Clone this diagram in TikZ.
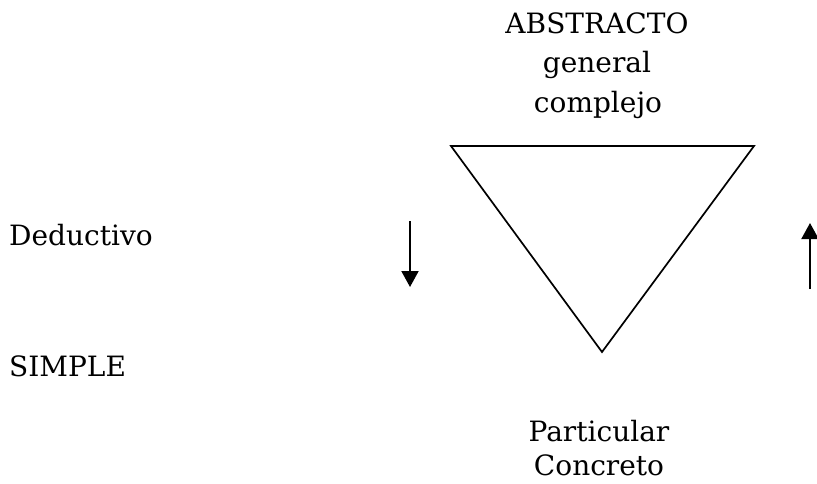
\documentclass[tikz,border=0pt]{standalone}
\usepackage{fontspec}
\setmainfont{DejaVu Serif}
\usetikzlibrary{arrows.meta}
\begin{document}
\begin{tikzpicture}[x=1pt,y=-1pt,
  lbl/.style={font=\fontsize{28}{32}\selectfont, inner sep=0pt, anchor=base},
  lbll/.style={lbl, anchor=base west},
  edge/.style={line width=1.7pt, line join=miter},
  arr/.style={line width=2pt, -{Triangle[width=17pt,length=16pt]}}]
\useasboundingbox (0,0) rectangle (817,483);
\node[lbl] (abs) at (597,33) {ABSTRACTO};
\node[lbl] (gen) at (597,72) {general};
\node[lbl] (com) at (598,112) {complejo};
\node[lbl] (par) at (599,441) {Particular};
\node[lbl] (con) at (599,475) {Concreto};
\node[lbll] (ded) at (9,245) {Deductivo};
\node[lbll] (sim) at (9,376) {SIMPLE};
\coordinate (tl) at (451,146);
\coordinate (tr) at (754,146);
\coordinate (tb) at (602,352);
\draw[edge] (tl) -- (tr) -- (tb) -- cycle;
\coordinate (d1) at (410,221);
\coordinate (d2) at (410,287);
\draw[arr] (d1) -- (d2);
\coordinate (u1) at (810,289);
\coordinate (u2) at (810,223);
\draw[arr] (u1) -- (u2);
\end{tikzpicture}
\end{document}
